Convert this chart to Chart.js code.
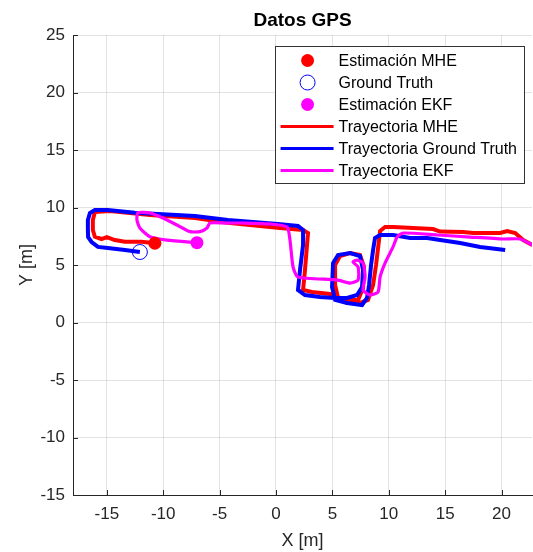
<!DOCTYPE html>
<html>
<head>
<meta charset="utf-8">
<title>Datos GPS</title>
<script src="https://cdn.jsdelivr.net/npm/chart.js@4.4.0/dist/chart.umd.min.js"></script>
<style>
    html, body { margin: 0; padding: 0; background: #fff; overflow: hidden; }
    #wrap { width: 533px; height: 552px; }
</style>
</head>
<body>
<div id="wrap"><canvas id="gpsChart"></canvas></div>
<script>
// Trayectorias (metros)
const mheX = [22.72, 21.92, 21.21, 20.50, 19.88, 17.48, 16.59, 14.55, 13.93, 10.38, 9.67, 9.23, 9.05, 8.87, 8.61, 8.16, 7.45, 6.30, 5.50, 5.24, 5.24, 5.68, 6.57, 7.45, 7.81, 7.72, 7.28, 6.12, 4.79, 3.19, 2.40, 2.57, 2.75, 2.84, 2.40, 0.35, -4.08, -7.19, -11.18, -14.73, -16.06, -16.24, -16.24, -16.06, -15.47, -15.00, -14.29, -13.40, -11.92, -10.74];
const mheY = [6.74, 7.17, 7.78, 7.96, 7.78, 7.78, 7.87, 7.91, 8.13, 8.30, 8.30, 7.96, 6.48, 5.00, 3.26, 1.96, 1.70, 1.70, 2.13, 3.26, 5.00, 5.78, 6.04, 5.87, 4.83, 3.00, 1.96, 1.96, 2.48, 2.65, 2.83, 4.57, 6.74, 7.78, 8.04, 8.22, 8.65, 9.09, 9.35, 9.70, 9.61, 8.91, 8.04, 7.46, 7.26, 7.43, 7.17, 7.03, 7.03, 6.89];

const gtX = [20.32, 18.10, 16.33, 14.55, 13.40, 11.89, 10.38, 9.23, 8.78, 8.61, 8.43, 8.25, 8.07, 7.63, 6.30, 5.24, 4.97, 5.06, 5.50, 6.57, 7.45, 7.72, 7.63, 7.19, 6.30, 5.24, 3.90, 2.57, 1.95, 2.13, 2.40, 2.40, 1.95, 0.18, -4.26, -7.19, -12.51, -14.91, -16.06, -16.50, -16.68, -16.68, -16.66, -16.35, -15.79, -14.91, -13.40, -12.07];
const gtY = [6.30, 6.57, 6.91, 7.17, 7.35, 7.35, 7.61, 7.61, 7.35, 6.30, 5.00, 3.26, 2.13, 1.52, 1.70, 1.96, 3.09, 5.17, 5.87, 6.04, 5.78, 4.57, 3.09, 2.39, 2.13, 2.13, 2.22, 2.39, 2.83, 4.57, 6.74, 8.04, 8.39, 8.57, 8.91, 9.26, 9.55, 9.78, 9.78, 9.52, 8.91, 8.04, 7.43, 7.00, 6.57, 6.48, 6.30, 6.13];

const ekfX = [22.72, 21.65, 20.14, 17.21, 14.29, 11.27, 10.74, 10.38, 9.67, 9.23, 9.05, 8.34, 7.72, 7.90, 7.72, 7.19, 6.83, 7.28, 7.28, 6.57, 5.41, 1.95, 1.51, 1.24, 0.98, -0.53, -2.93, -4.53, -5.86, -6.12, -6.74, -7.63, -8.78, -10.03, -11.18, -12.24, -12.33, -12.07, -11.18, -9.67, -7.01];
const ekfY = [6.74, 7.26, 7.26, 7.43, 7.61, 7.78, 7.43, 6.57, 5.17, 3.96, 2.65, 2.39, 2.83, 3.96, 5.17, 5.43, 5.26, 4.83, 3.70, 3.43, 3.70, 3.96, 4.83, 7.17, 8.30, 8.57, 8.65, 8.65, 8.65, 8.22, 7.90, 7.90, 8.48, 9.09, 9.52, 9.55, 8.91, 8.22, 7.46, 7.17, 6.94];

// Posicion final de cada estimacion [x, y]
const mheFinal = [-10.74, 6.89];
const gtFinal = [-12.07, 6.13];
const ekfFinal = [-7.01, 6.94];

const seriesLabels = ["Estimación MHE", "Ground Truth", "Estimación EKF", "Trayectoria MHE", "Trayectoria Ground Truth", "Trayectoria EKF"];
const xTicks = [-15, -10, -5, 0, 5, 10, 15, 20];
const yTicks = [-15, -10, -5, 0, 5, 10, 15, 20, 25];
const xRange = [-18, 22.7];
const yRange = [-15, 25];

const FONT = '"Liberation Sans", Arial, Helvetica, sans-serif';
const TEXT = "#262626";

function toPoints(xs, ys)
{
    return xs.map((x, i) => ({ x: x, y: ys[i] }));
}

// MATLAB style tick marks pointing into the axes
const innerTicks = {
    id: "innerTicks",
    afterDatasetsDraw(chart)
    {
        const ctx = chart.ctx;
        const area = chart.chartArea;
        const xs = chart.scales.x;
        const ys = chart.scales.y;
        ctx.save();
        ctx.strokeStyle = TEXT;
        ctx.lineWidth = 1;
        ctx.beginPath();
        xTicks.forEach((v) => {
            const px = Math.round(xs.getPixelForValue(v)) + 0.5;
            ctx.moveTo(px, area.bottom);
            ctx.lineTo(px, area.bottom - 5);
        });
        yTicks.forEach((v) => {
            const py = Math.round(ys.getPixelForValue(v)) + 0.5;
            ctx.moveTo(area.left, py);
            ctx.lineTo(area.left + 5, py);
        });
        ctx.stroke();
        ctx.restore();
    }
};

const legendOrder = [0, 1, 2, 3, 4, 5];

// Legend box in the upper right corner of the axes
const legendBox = {
    id: "legendBox",
    afterDraw(chart)
    {
        const ctx = chart.ctx;
        const area = chart.chartArea;
        const sets = chart.data.datasets;
        const rowH = 22;

        ctx.save();
        ctx.font = "16px " + FONT;
        const textW = Math.max(...sets.map((d) => ctx.measureText(d.label).width));
        const boxW = 64 + textW + 7;
        const boxH = sets.length * rowH + 5;
        const right = area.right - 8;
        const left = right - boxW;
        const top = area.top + 11;

        ctx.fillStyle = "#ffffff";
        ctx.fillRect(left, top, boxW, boxH);
        ctx.strokeStyle = "#333333";
        ctx.lineWidth = 1;
        ctx.strokeRect(Math.round(left) + 0.5, Math.round(top) + 0.5, Math.round(boxW), Math.round(boxH));

        legendOrder.forEach((idx, row) => {
            const d = sets[idx];
            const cy = top + 14.5 + row * rowH;
            if (d.showLine)
            {
                ctx.strokeStyle = d.borderColor;
                ctx.lineWidth = 3;
                ctx.beginPath();
                ctx.moveTo(left + 6, cy);
                ctx.lineTo(left + 59, cy);
                ctx.stroke();
            }
            else
            {
                ctx.beginPath();
                ctx.arc(left + 33, cy, d.pointRadius, 0, Math.PI * 2);
                if (d.pointBackgroundColor !== "transparent")
                {
                    ctx.fillStyle = d.pointBackgroundColor;
                    ctx.fill();
                }
                else
                {
                    ctx.strokeStyle = d.pointBorderColor;
                    ctx.lineWidth = 1;
                    ctx.stroke();
                }
            }
            ctx.fillStyle = "#000000";
            ctx.textBaseline = "middle";
            ctx.textAlign = "left";
            ctx.fillText(d.label, left + 64, cy + 1);
        });
        ctx.restore();
    }
};

const ctx = document.getElementById("gpsChart").getContext("2d");

new Chart(ctx, {
    type: "scatter",
    data: {
        datasets: [
            {
                label: seriesLabels[0],
                data: [{ x: mheFinal[0], y: mheFinal[1] }],
                pointRadius: 6.5,
                pointBackgroundColor: "#ff0000",
                pointBorderColor: "#ff0000",
                pointBorderWidth: 0,
                showLine: false,
                order: 1,
            },
            {
                label: seriesLabels[1],
                data: [{ x: gtFinal[0], y: gtFinal[1] }],
                pointRadius: 7.5,
                pointBackgroundColor: "transparent",
                pointBorderColor: "#0000ff",
                pointBorderWidth: 1,
                showLine: false,
                order: 1,
            },
            {
                label: seriesLabels[2],
                data: [{ x: ekfFinal[0], y: ekfFinal[1] }],
                pointRadius: 6.5,
                pointBackgroundColor: "#ff00ff",
                pointBorderColor: "#ff00ff",
                pointBorderWidth: 0,
                showLine: false,
                order: 1,
            },
            {
                label: seriesLabels[3],
                data: toPoints(mheX, mheY),
                showLine: true,
                borderColor: "#ff0000",
                borderWidth: 4,
                pointRadius: 0,
                order: 4, // drawn first
            },
            {
                label: seriesLabels[4],
                data: toPoints(gtX, gtY),
                showLine: true,
                borderColor: "#0000ff",
                borderWidth: 4,
                pointRadius: 0,
                order: 3,
            },
            {
                label: seriesLabels[5],
                data: toPoints(ekfX, ekfY),
                showLine: true,
                borderColor: "#ff00ff",
                borderWidth: 3.2,
                pointRadius: 0,
                tension: 0.2,
                order: 2,
            },
        ],
    },
    options: {
        responsive: true,
        maintainAspectRatio: false,
        animation: false,
        layout: {
            autoPadding: false,
            padding: { left: 0, right: 1, top: 0, bottom: 0 },
        },
        plugins: {
            legend: { display: false },
            tooltip: { enabled: false },
            title: {
                display: true,
                text: "Datos GPS",
                fullSize: false,
                color: "#000000",
                font: { family: FONT, size: 19, weight: "bold" },
                padding: { top: 9, bottom: 3.2 },
            },
        },
        scales: {
            x: {
                type: "linear",
                min: xRange[0],
                max: xRange[1],
                afterBuildTicks: (scale) => {
                    scale.ticks = xTicks.map((v) => ({ value: v }));
                },
                afterFit: (scale) => {
                    scale.height = 57;
                    scale.paddingLeft = 0;
                    scale.paddingRight = 0;
                },
                grid: { color: "rgba(38,38,38,0.13)", drawTicks: false },
                border: { color: TEXT, width: 1 },
                ticks: {
                    padding: 9,
                    maxRotation: 0,
                    color: TEXT,
                    font: { family: FONT, size: 17 },
                },
                title: {
                    display: true,
                    text: "X [m]",
                    color: TEXT,
                    font: { family: FONT, size: 18 },
                    padding: { top: 0, bottom: 0 },
                },
            },
            y: {
                type: "linear",
                min: yRange[0],
                max: yRange[1],
                afterBuildTicks: (scale) => {
                    scale.ticks = yTicks.map((v) => ({ value: v }));
                },
                afterFit: (scale) => {
                    scale.width = 73;
                    scale.paddingTop = 0;
                    scale.paddingBottom = 0;
                },
                grid: { color: "rgba(38,38,38,0.13)", drawTicks: false },
                border: { color: TEXT, width: 1 },
                ticks: {
                    padding: 8,
                    color: TEXT,
                    font: { family: FONT, size: 17 },
                },
                title: {
                    display: true,
                    text: "Y [m]",
                    color: TEXT,
                    font: { family: FONT, size: 18 },
                    padding: { top: 16, bottom: 0 },
                },
            },
        },
    },
    plugins: [innerTicks, legendBox],
});
</script>
</body>
</html>
